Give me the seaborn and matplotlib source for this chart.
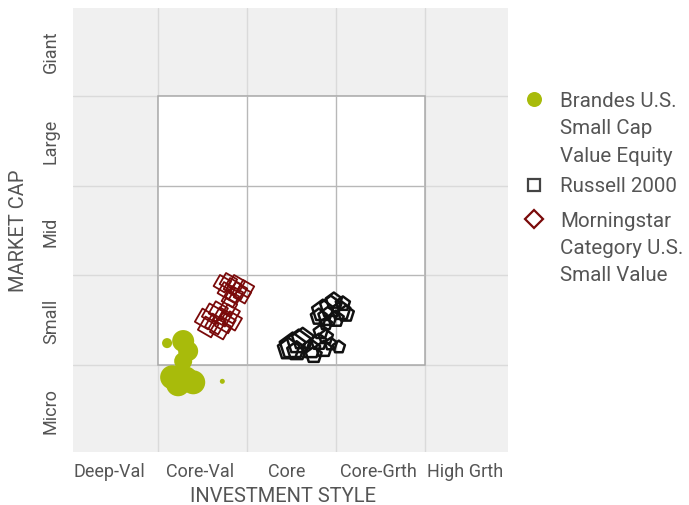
import matplotlib
matplotlib.use("Agg")
import matplotlib.pyplot as plt
import seaborn as sns
import pandas as pd
from matplotlib.patches import Rectangle
from matplotlib.lines import Line2D

# ---- data (style-box units: 1..4 is the inner 3x3 box) ----
style_labels = ["Deep-Val", "Core-Val", "Core", "Core-Grth", "High Grth"]
cap_labels = ["Micro", "Small", "Mid", "Large", "Giant"]

brandes_x = [1.102, 1.283, 1.339, 1.283, 1.159, 1.305, 1.396, 1.226, 1.723]
brandes_y = [1.244, 1.267, 1.155, 1.043, 0.863, 0.841, 0.807, 0.785, 0.818]
brandes_w = [25, 121, 100, 81, 144, 169, 144, 144, 6]

russell_x = [2.513, 2.581, 2.468, 2.626, 2.558, 2.716, 2.807, 2.863, 2.942, 3.032,
             2.750, 2.886, 2.829, 2.852, 2.942, 3.055, 2.908, 2.998, 3.111, 2.807,
             2.976, 2.886, 3.077]
russell_y = [1.211, 1.256, 1.177, 1.289, 1.155, 1.177, 1.256, 1.177, 1.233, 1.200,
             1.110, 1.312, 1.368, 1.603, 1.648, 1.603, 1.536, 1.513, 1.570, 1.536,
             1.715, 1.457, 1.682]
russell_w = [18, 16, 14, 14, 12, 12, 10, 10, 8, 8,
             10, 9, 9, 14, 14, 12, 12, 10, 10, 10,
             10, 8, 9]

mstar_x = [1.723, 1.791, 1.836, 1.904, 1.949, 1.768, 1.858, 1.813, 1.983, 1.881,
           1.531, 1.610, 1.678, 1.723, 1.644, 1.757, 1.813, 1.565, 1.700, 1.836, 1.791]
mstar_y = [1.906, 1.928, 1.872, 1.827, 1.783, 1.827, 1.783, 1.738, 1.850, 1.906,
           1.513, 1.570, 1.603, 1.536, 1.457, 1.469, 1.570, 1.424, 1.401, 1.491, 1.648]
mstar_w = [13, 13, 13, 13, 13, 13, 13, 13, 13, 13,
           15, 15, 14, 14, 15, 15, 14, 15, 15, 14, 13]

series_names = ["Brandes U.S.\nSmall Cap\nValue Equity", "Russell 2000",
                "Morningstar\nCategory U.S.\nSmall Value"]

GREEN = "#a8bb0b"
BLACK = "#111111"
RED = "#7a0a0a"
TXT = "#555555"

sns.set_theme(style="white")
plt.rcParams["font.family"] = ["Roboto", "DejaVu Sans"]

W, H = 689, 506
fig = plt.figure(figsize=(W / 100, H / 100), dpi=100)
ax = fig.add_axes([73 / W, (H - 453) / H, 435 / W, 444 / H])
ax.set_facecolor("#f0f0f0")
ax.set_xlim(0.045, 4.933)
ax.set_ylim(0.03, 4.98)

# light grid across the whole box
for v in range(1, 5):
    ax.axvline(v, color="#dadada", lw=1, zorder=0.5)
    ax.axhline(v, color="#dadada", lw=1, zorder=0.5)
# white inner 3x3 box
ax.add_patch(Rectangle((1, 1), 3, 3, facecolor="white", edgecolor="#a8a8a8", lw=1.1, zorder=0.8))
for v in (2, 3):
    ax.plot([v, v], [1, 4], color="#b8b8b8", lw=1, zorder=0.9)
    ax.plot([1, 4], [v, v], color="#b8b8b8", lw=1, zorder=0.9)

df_b = pd.DataFrame({"x": brandes_x, "y": brandes_y, "w": brandes_w})
df_r = pd.DataFrame({"x": russell_x, "y": russell_y, "w": russell_w})
df_m = pd.DataFrame({"x": mstar_x, "y": mstar_y, "w": mstar_w})

sns.scatterplot(data=df_b, x="x", y="y", size="w", sizes=(13, 350), color=GREEN,
                linewidth=0, alpha=1, legend=False, ax=ax, zorder=3)

sns.scatterplot(data=df_m, x="x", y="y", size="w", sizes=(170, 240), marker=(4, 0, 15),
                legend=False, ax=ax, zorder=3)
pc = ax.collections[-1]
pc.set_facecolor("none"); pc.set_edgecolor(RED); pc.set_linewidth(1.3)

sns.scatterplot(data=df_r, x="x", y="y", size="w", sizes=(85, 380), marker="p",
                legend=False, ax=ax, zorder=3)
pc = ax.collections[-1]
pc.set_facecolor("none"); pc.set_edgecolor(BLACK); pc.set_linewidth(1.8)

ax.set_xticks([0.455, 1.472, 2.45, 3.472, 4.45])
ax.set_xticklabels(style_labels)
ax.set_yticks([0.5, 1.5, 2.5, 3.5, 4.5])
ax.set_yticklabels(cap_labels, rotation=90, va="center")
ax.tick_params(axis="both", length=0, labelsize=13, labelcolor=TXT)
ax.tick_params(axis="x", pad=7)
ax.tick_params(axis="y", pad=9.5)
ax.set_xlabel("INVESTMENT STYLE", fontsize=14.5, color=TXT, labelpad=4.5, x=0.482)
ax.set_ylabel("MARKET CAP", fontsize=14.5, color=TXT, labelpad=10)
for s in ax.spines.values():
    s.set_visible(False)

# ---- legend (markers aligned with the first line of each entry) ----
handles = [
    dict(marker="o", markersize=10.8, markerfacecolor=GREEN, markeredgecolor=GREEN, markeredgewidth=0),
    dict(marker="s", markersize=9.2, markerfacecolor="none", markeredgecolor="#444444", markeredgewidth=1.6),
    dict(marker="D", markersize=9.5, markerfacecolor="none", markeredgecolor=RED, markeredgewidth=1.6),
]
first_baselines = [107.3, 191.7, 226.7]
line_offsets = [7.3, 5.7, 6.7]
line_step = 27.2
for name, hd, b0, off in zip(series_names, handles, first_baselines, line_offsets):
    cy = b0 - off
    fig.add_artist(Line2D([533.5 / W], [1 - cy / H], transform=fig.transFigure, ls="", **hd))
    for i, line in enumerate(name.split("\n")):
        fig.text(560 / W, 1 - (b0 + i * line_step) / H, line, fontsize=14.8,
                 color=TXT, ha="left", va="baseline")

fig.savefig("out.png", dpi=100)
